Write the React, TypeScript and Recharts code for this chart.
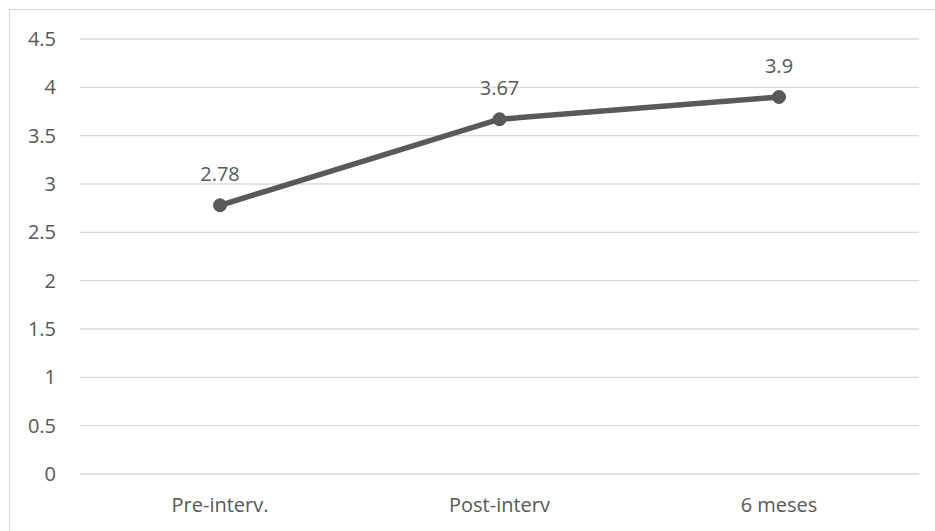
import React from "react";
import { LineChart, Line, XAxis, YAxis, CartesianGrid, LabelList } from "recharts";

const categories = ["Pre-interv.", "Post-interv", "6 meses"];
const values = [2.78, 3.67, 3.9];
const yTicks = [0, 0.5, 1, 1.5, 2, 2.5, 3, 3.5, 4, 4.5];

const data = categories.map((name, i) => ({ name, value: values[i] }));

const FONT = "'Open Sans', 'Noto Sans', sans-serif";
const TEXT = "#595959";
const FS = 20;

export default function App() {
  return (
    <div
      style={{
        position: "fixed",
        left: 9,
        top: 9,
        width: 1000,
        height: 600,
        border: "1px solid #d9d9d9",
        background: "#fff",
        boxSizing: "border-box",
      }}
    >
      <LineChart
        width={926}
        height={522}
        data={data}
        margin={{ top: 29, right: 17, left: 0, bottom: 28 }}
        style={{ fontFamily: FONT }}
      >
        <CartesianGrid vertical={false} stroke="#d9d9d9" strokeWidth={1.3} />
        <XAxis
          dataKey="name"
          axisLine={false}
          tickLine={false}
          tickSize={0}
          tickMargin={24}
          height={30}
          padding={{ left: 140, right: 140 }}
          tick={{ fill: TEXT, fontSize: FS, fontFamily: FONT }}
        />
        <YAxis
          domain={[0, 4.5]}
          ticks={yTicks}
          axisLine={false}
          tickLine={false}
          tickSize={0}
          tickMargin={24}
          width={70}
          tick={{ fill: TEXT, fontSize: FS, fontFamily: FONT }}
        />
        <Line
          dataKey="value"
          stroke="#595959"
          strokeWidth={5.5}
          dot={{ r: 6.5, fill: "#595959", stroke: "#595959", strokeWidth: 1 }}
          activeDot={false}
          isAnimationActive={false}
        >
          <LabelList
            dataKey="value"
            position="top"
            offset={24}
            fill={TEXT}
            fontSize={FS}
            fontFamily={FONT}
          />
        </Line>
      </LineChart>
    </div>
  );
}
